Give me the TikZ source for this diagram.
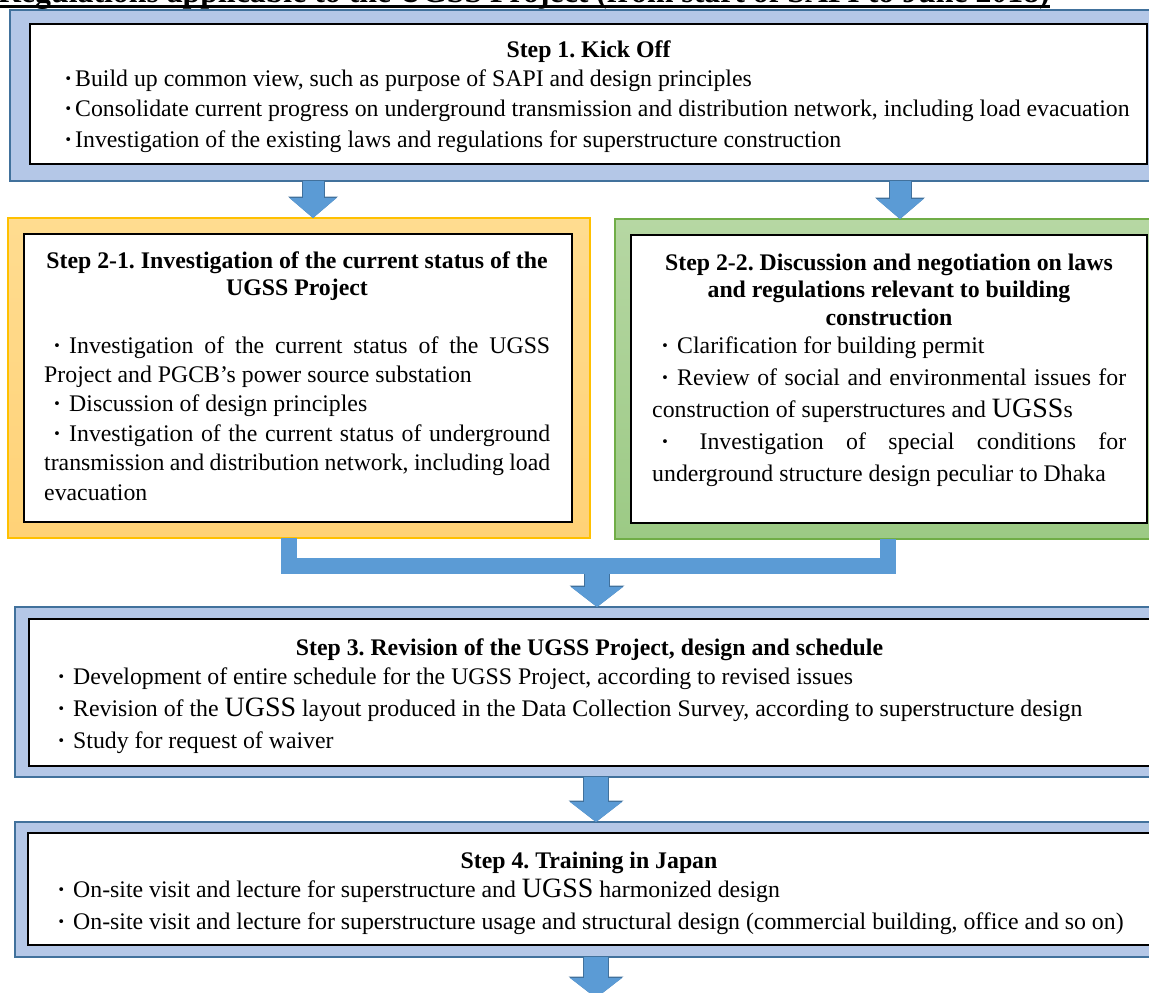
\documentclass[tikz,border=0pt]{standalone}
\usepackage{fontspec}
\setmainfont{Liberation Serif}
\usetikzlibrary{arrows.meta}
\frenchspacing

\definecolor{stepfill}{HTML}{B4C7E7}
\definecolor{stepedge}{HTML}{41719C}
\definecolor{flowblue}{HTML}{5B9BD5}
\definecolor{flowedge}{HTML}{41719C}
\definecolor{ambertop}{HTML}{FFDC90}
\definecolor{amberbot}{HTML}{FFD277}
\definecolor{amberedge}{HTML}{FFC000}
\definecolor{leaftop}{HTML}{B6D7A3}
\definecolor{leafbot}{HTML}{9CCA85}
\definecolor{leafedge}{HTML}{70AD47}

\newcommand\bigugss{{\fontsize{28pt}{30pt}\selectfont UGSS}}
\newcommand\middot{{\bfseries\textperiodcentered}}
\newcommand\dotl[1]{\llap{\middot\hspace{#1}}}
\newcommand\dotp{\makebox[25pt][l]{\hspace{9pt}\middot}}

% multi-line text nodes are placed by the baseline of their last line
\tikzset{
  panel/.style={rectangle, inner sep=0pt, outer sep=0pt, anchor=north west},
  bluepanel/.style={panel, fill=stepfill, draw=stepedge, line width=2.5pt},
  amberpanel/.style={panel, top color=ambertop, bottom color=amberbot, draw=amberedge, line width=1.5pt},
  leafpanel/.style={panel, top color=leaftop, bottom color=leafbot, draw=leafedge, line width=1.5pt},
  textpanel/.style={panel, fill=white, draw=black, line width=2.2pt},
  heading/.style={inner sep=0pt, anchor=base, align=center, font=\fontsize{23.8pt}{#1}\selectfont\bfseries},
  heading/.default=27.5pt,
  body/.style={inner sep=0pt, anchor=base west, align=left, font=\fontsize{23.8pt}{#1}\selectfont},
  flow/.style={line width=24pt, draw=flowblue,
    -{Triangle[width=52pt,length=20pt,line width=0pt]},
    preaction={draw=flowedge, line width=26pt, -{Triangle[width=55pt,length=21.5pt,line width=0pt]}}},
  flowthin/.style={line width=21pt, draw=flowblue,
    -{Triangle[width=47pt,length=20pt,line width=0pt]},
    preaction={draw=flowedge, line width=23pt, -{Triangle[width=50pt,length=21.5pt,line width=0pt]}}},
  merge/.style={line width=16pt, draw=flowblue, line join=miter},
}

\begin{document}
\begin{tikzpicture}[x=1pt,y=-1pt]
\useasboundingbox (0,0) rectangle (1149,993);
\clip (0,0) rectangle (1149,993);

% running heading, cut by the top edge
\node[inner sep=0pt, anchor=base east, font=\fontsize{31.8pt}{32pt}\selectfont\bfseries] (head) at (1050,2)
  {Regulations applicable to the UGSS Project (from start of SAPI to June 2018)};
\coordinate (ruley) at (0,6);
\draw[line width=3pt] (head.base west |- ruley) -- (head.base east |- ruley);

% frames
\node[bluepanel, minimum width=1160pt, minimum height=171pt] (s1) at (10,10) {};
\node[textpanel, minimum width=1117pt, minimum height=140pt] (s1i) at (30,24) {};

\node[amberpanel, minimum width=582pt, minimum height=320pt] (s21) at (8,218) {};
\node[textpanel, minimum width=548pt, minimum height=288pt] (s21i) at (24,234) {};

\node[leafpanel, minimum width=560pt, minimum height=320pt] (s22) at (615,219) {};
\node[textpanel, minimum width=516pt, minimum height=288pt] (s22i) at (631,235) {};

\node[bluepanel, minimum width=1160pt, minimum height=170pt] (s3) at (15,607) {};
\node[textpanel, minimum width=1140pt, minimum height=147pt] (s3i) at (29,619) {};

\node[bluepanel, minimum width=1160pt, minimum height=135pt] (s4) at (15,822) {};
\node[textpanel, minimum width=1140pt, minimum height=112pt] (s4i) at (28,833) {};

% flow arrows
\coordinate (xa) at (313,0);
\coordinate (xb) at (900,0);
\coordinate (xl) at (289,0);
\coordinate (xr) at (888,0);
\coordinate (mid) at (597,566);
\coordinate (xc) at (596,0);
\coordinate (tail) at (596,998);

\draw[flowthin] (s1.south -| xa) -- (s21.north -| xa);
\draw[flowthin] (s1.south -| xb) -- (s22.north -| xb);
\draw[flow] (mid) -- (s3.north -| mid);
\draw[merge] (s21.south -| xl) |- (mid) -| (s22.south -| xr);
\draw[flow] (s3.south -| xc) -- (s4.north -| xc);
\draw[flow] (s4.south -| xc) -- (tail);

% Step 1
\node[heading] (h1) at (588.5,57) {Step 1. Kick Off};
\node[body=30.3pt] (p1) at (75,147.1) {%
\dotl{3pt}Build up common view, such as purpose of SAPI and design principles\\
\dotl{3pt}Consolidate current progress on underground transmission and distribution network, including load evacuation\\
\dotl{3pt}Investigation of the existing laws and regulations for superstructure construction};

% Step 2-1
\node[heading=27pt] (h21) at (297,295) {Step 2-1. Investigation of the current status of the\\UGSS Project};
\node[body=29.4pt] (p21) at (44,500) {%
\makebox[506pt][s]{\dotp Investigation of the current status of the UGSS}\\
Project and PGCB’s power source substation\\
\dotp Discussion of design principles\\
\makebox[506pt][s]{\dotp Investigation of the current status of underground}\\
\makebox[506pt][s]{transmission and distribution network, including load}\\
evacuation};

% Step 2-2
\node[heading=27.5pt] (h22) at (889,325) {Step 2-2. Discussion and negotiation on laws\\and regulations relevant to building\\construction};
\node[body=32pt] (p22) at (652,481) {%
\dotp Clarification for building permit\\
\makebox[474pt][s]{\dotp Review of social and environmental issues for}\\
construction of superstructures and \bigugss s\\
\makebox[474pt][s]{\dotp{} Investigation of special conditions for}\\
underground structure design peculiar to Dhaka};

% Step 3
\node[heading] (h3) at (589.5,655) {Step 3. Revision of the UGSS Project, design and schedule};
\node[body=32pt] (p3) at (73,748) {%
\dotl{8pt}Development of entire schedule for the UGSS Project, according to revised issues\\
\dotl{8pt}Revision of the \bigugss{} layout produced in the Data Collection Survey, according to superstructure design\\
\dotl{8pt}Study for request of waiver};

% Step 4
\node[heading] (h4) at (589,868) {Step 4. Training in Japan};
\node[body=32pt] (p4) at (73,929) {%
\dotl{8pt}On-site visit and lecture for superstructure and \bigugss{} harmonized design\\
\dotl{8pt}On-site visit and lecture for superstructure usage and structural design (commercial building, office and so on)};
\end{tikzpicture}
\end{document}
